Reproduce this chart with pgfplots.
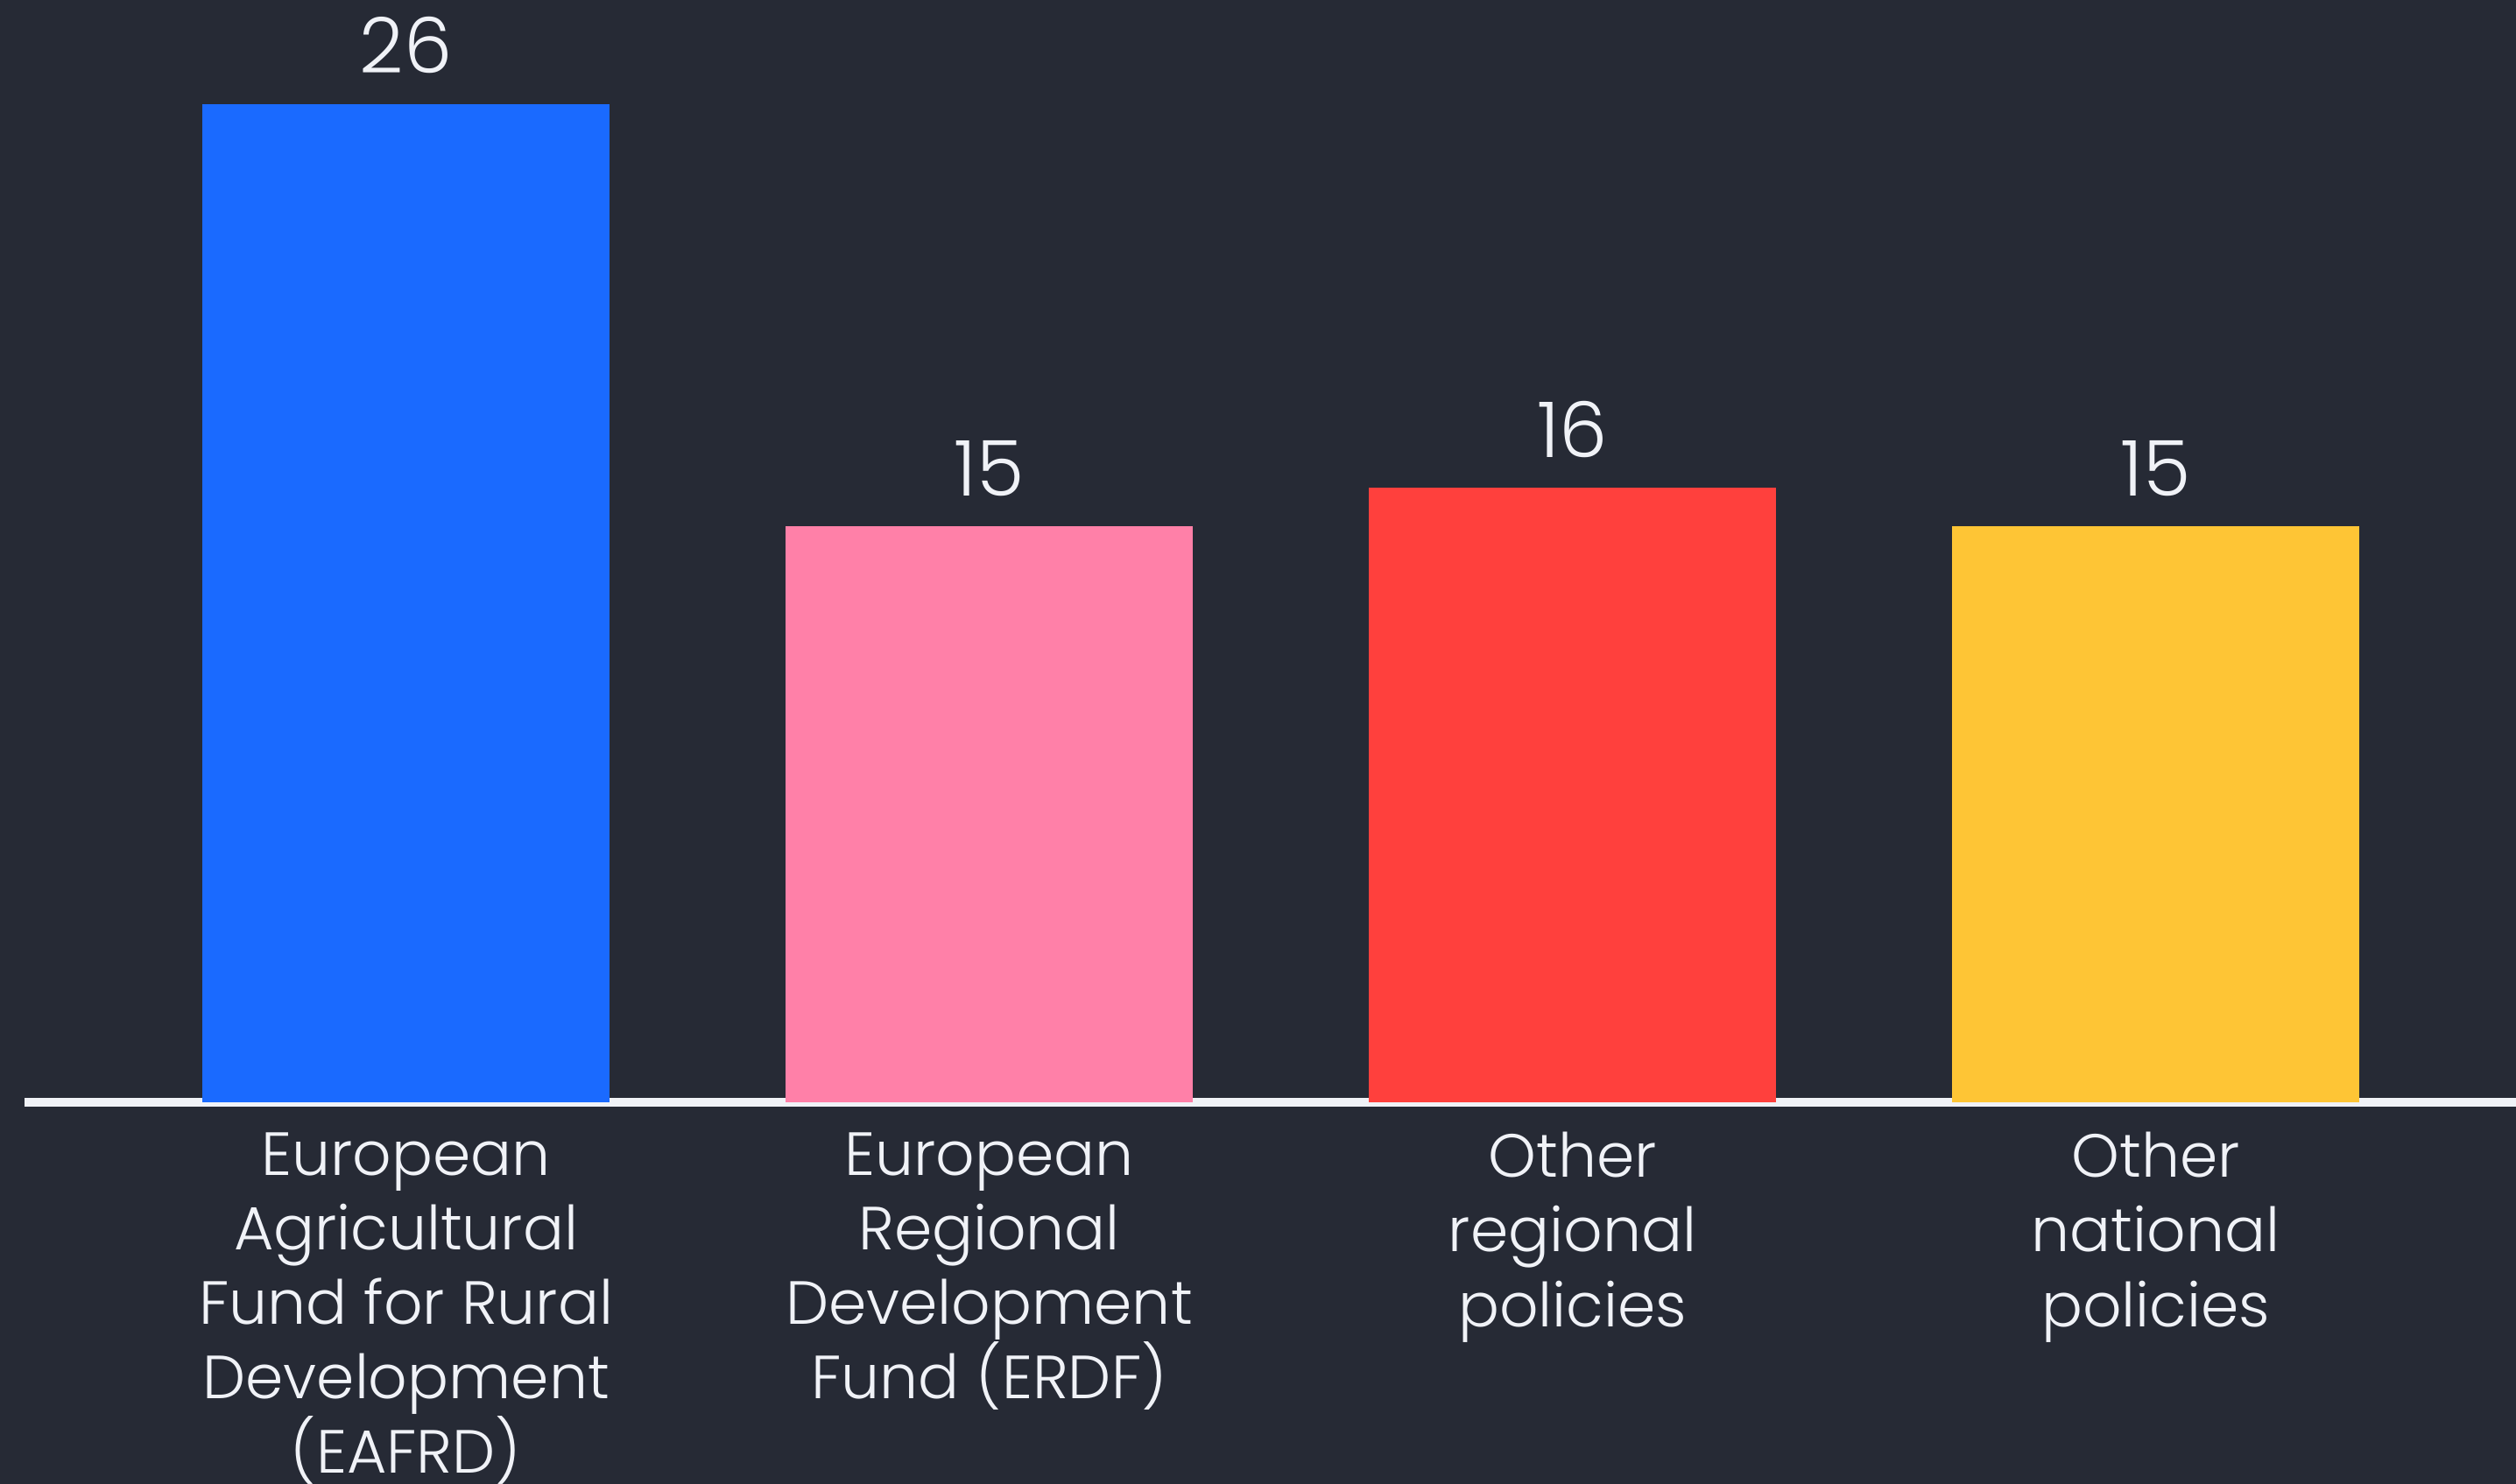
\documentclass[border=0pt]{standalone}
\usepackage{pgfplots}
\pgfplotsset{compat=1.18}
\usepackage{fontspec}
\setmainfont{Poppins}[UprightFont=* Light]
\definecolor{bg}{HTML}{262A35}
\definecolor{c1}{HTML}{1A6AFF}
\definecolor{c2}{HTML}{FF80A8}
\definecolor{c3}{HTML}{FF403D}
\definecolor{c4}{HTML}{FEC535}
\definecolor{fg}{HTML}{F0F2F7}
\begin{document}
\begin{tikzpicture}
\useasboundingbox (0,0) rectangle (287.3mm,169.5mm);
\clip (0,0) rectangle (287.3mm,169.5mm);
\fill[bg] (0,0) rectangle (287.3mm,169.5mm);
\begin{axis}[
  at={(2.8mm,43.6mm)}, anchor=south west,
  scale only axis, width=284.5mm, height=125.9mm,
  xmin=-0.654, xmax=3.618, ymin=0, ymax=28.71,
  axis x line=bottom, axis y line=none,
  x axis line style={-, line width=1mm, draw=fg},
  xtick={0,1,2,3}, major tick length=0pt, xtick style={draw=none},
  xticklabels={{European\\Agricultural\\Fund for Rural\\Development\\(EAFRD)},{European\\Regional\\Development\\Fund (ERDF)},{Other\\regional\\policies},{Other\\national\\policies}},
  xticklabel style={align=center, anchor=north, yshift=-2.2mm, text=fg, font=\fontsize{19.8}{24.2}\selectfont},
  ybar, bar width=0.698, bar shift=0pt,
  nodes near coords,
  /pgf/number format/assume math mode=true,
  nodes near coords style={anchor=base, yshift=3.5mm, text=fg, font=\fontsize{25}{30}\selectfont},
  clip=false,
]
\addplot[fill=c1, draw=none] coordinates {(0,26)};
\addplot[fill=c2, draw=none] coordinates {(1,15)};
\addplot[fill=c3, draw=none] coordinates {(2,16)};
\addplot[fill=c4, draw=none] coordinates {(3,15)};
\end{axis}
\end{tikzpicture}
\end{document}
